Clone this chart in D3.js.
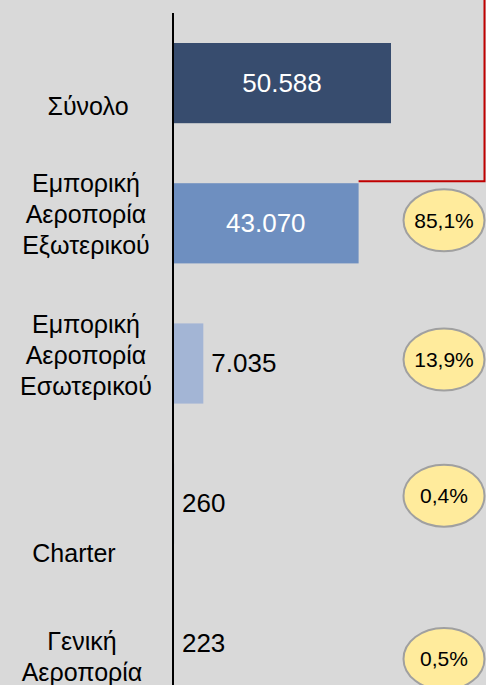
<!DOCTYPE html>
<html>
<head>
<meta charset="utf-8">
<script src="https://cdn.jsdelivr.net/npm/d3@7"></script>
<style>
  html, body { margin: 0; padding: 0; background: #d9d9d9; }
  svg { display: block; }
  text { font-family: "Liberation Sans", Arial, sans-serif; }
</style>
</head>
<body>
<svg id="chart" width="486" height="685"></svg>
<script>
// ---- data ----
const categories = ["Σύνολο", "Εμπορική Αεροπορία Εξωτερικού", "Εμπορική Αεροπορία Εσωτερικού", "Charter", "Γενική Αεροπορία"];
const categoryLines = [["Σύνολο"], ["Εμπορική", "Αεροπορία", "Εξωτερικού"], ["Εμπορική", "Αεροπορία", "Εσωτερικού"], ["Charter"], ["Γενική", "Αεροπορία"]];
const values = [50588, 43070, 7035, 260, 223];
const shares = [null, 85.1, 13.9, 0.4, 0.5];

// ---- style / layout ----
const W = 486, H = 685;
const barColors = ["#374c6e", "#6e8fc0", "#a3b5d5", "#a3b5d5", "#a3b5d5"];
const labelShift = [32, -31, -31, 58, 6];      // baseline of first line relative to band centre
const labelX = [88, 86, 86, 74, 82];
const ellipseShift = [0, -3, -4, -8, 15];

const loc = d3.formatLocale({decimal: ",", thousands: ".", grouping: [3], currency: ["", "€"]});
const fmtVal = loc.format(",d");
const fmtPct = v => loc.format(".1f")(v) + "%";

const svg = d3.select("#chart");
svg.append("rect").attr("width", W).attr("height", H).attr("fill", "#d9d9d9");

const x = d3.scaleLinear().domain([0, values[0]]).range([173, 391]);
const y = d3.scaleBand().domain(categories).range([13, 714]).paddingInner(0.428).paddingOuter(0.214);

// bars
svg.selectAll("rect.bar").data(values).join("rect")
  .attr("class", "bar")
  .attr("x", x(0))
  .attr("y", (d, i) => y(categories[i]))
  .attr("width", d => x(d) - x(0))
  .attr("height", y.bandwidth())
  .attr("fill", (d, i) => barColors[i]);

// axis line
const axis = d3.axisLeft(y).tickSize(0).tickFormat("");
const gAxis = svg.append("g").attr("transform", `translate(${x(0)},0)`).call(axis);
gAxis.select(".domain").remove();
svg.append("line").attr("x1", x(0)).attr("x2", x(0)).attr("y1", 13).attr("y2", H)
  .attr("stroke", "#000").attr("stroke-width", 2);

// value labels
svg.selectAll("text.val").data(values).join("text")
  .attr("class", "val")
  .attr("font-size", 26)
  .attr("x", d => (x(d) - x(0) > 120) ? (x(0) + x(d)) / 2 : x(d) + 8)
  .attr("text-anchor", d => (x(d) - x(0) > 120) ? "middle" : "start")
  .attr("y", (d, i) => y(categories[i]) + y.bandwidth() / 2)
  .attr("dy", "0.33em")
  .attr("fill", d => (x(d) - x(0) > 120) ? "#fff" : "#000")
  .text(d => fmtVal(d));

// category labels
const cl = svg.selectAll("text.cat").data(categoryLines).join("text")
  .attr("class", "cat")
  .attr("font-size", 25)
  .attr("text-anchor", "middle")
  .attr("fill", "#000");
cl.each(function(lines, i) {
  const t = d3.select(this);
  const base = y(categories[i]) + y.bandwidth() / 2 + labelShift[i];
  lines.forEach((ln, j) => {
    t.append("tspan").attr("x", labelX[i]).attr("y", base + j * 31).text(ln);
  });
});

// red connector
const x2 = x(values[1]);
const yTop = y(categories[1]) - 2;
svg.append("path")
  .attr("d", `M${x2},${yTop}H${W - 1.5}V0`)
  .attr("fill", "none").attr("stroke", "#c00000").attr("stroke-width", 2);

// share ellipses
const sh = shares.map((s, i) => ({s, i})).filter(d => d.s !== null);
const g = svg.selectAll("g.share").data(sh).join("g")
  .attr("class", "share")
  .attr("transform", d => `translate(444,${y(categories[d.i]) + y.bandwidth() / 2 + ellipseShift[d.i]})`);
g.append("ellipse").attr("rx", 40.5).attr("ry", 31)
  .attr("fill", "#ffeb9c").attr("stroke", "#a0a0a0").attr("stroke-width", 2);
g.append("text").attr("text-anchor", "middle").attr("dy", "0.35em")
  .attr("font-size", 21).attr("fill", "#000")
  .text(d => fmtPct(d.s));
</script>
</body>
</html>
